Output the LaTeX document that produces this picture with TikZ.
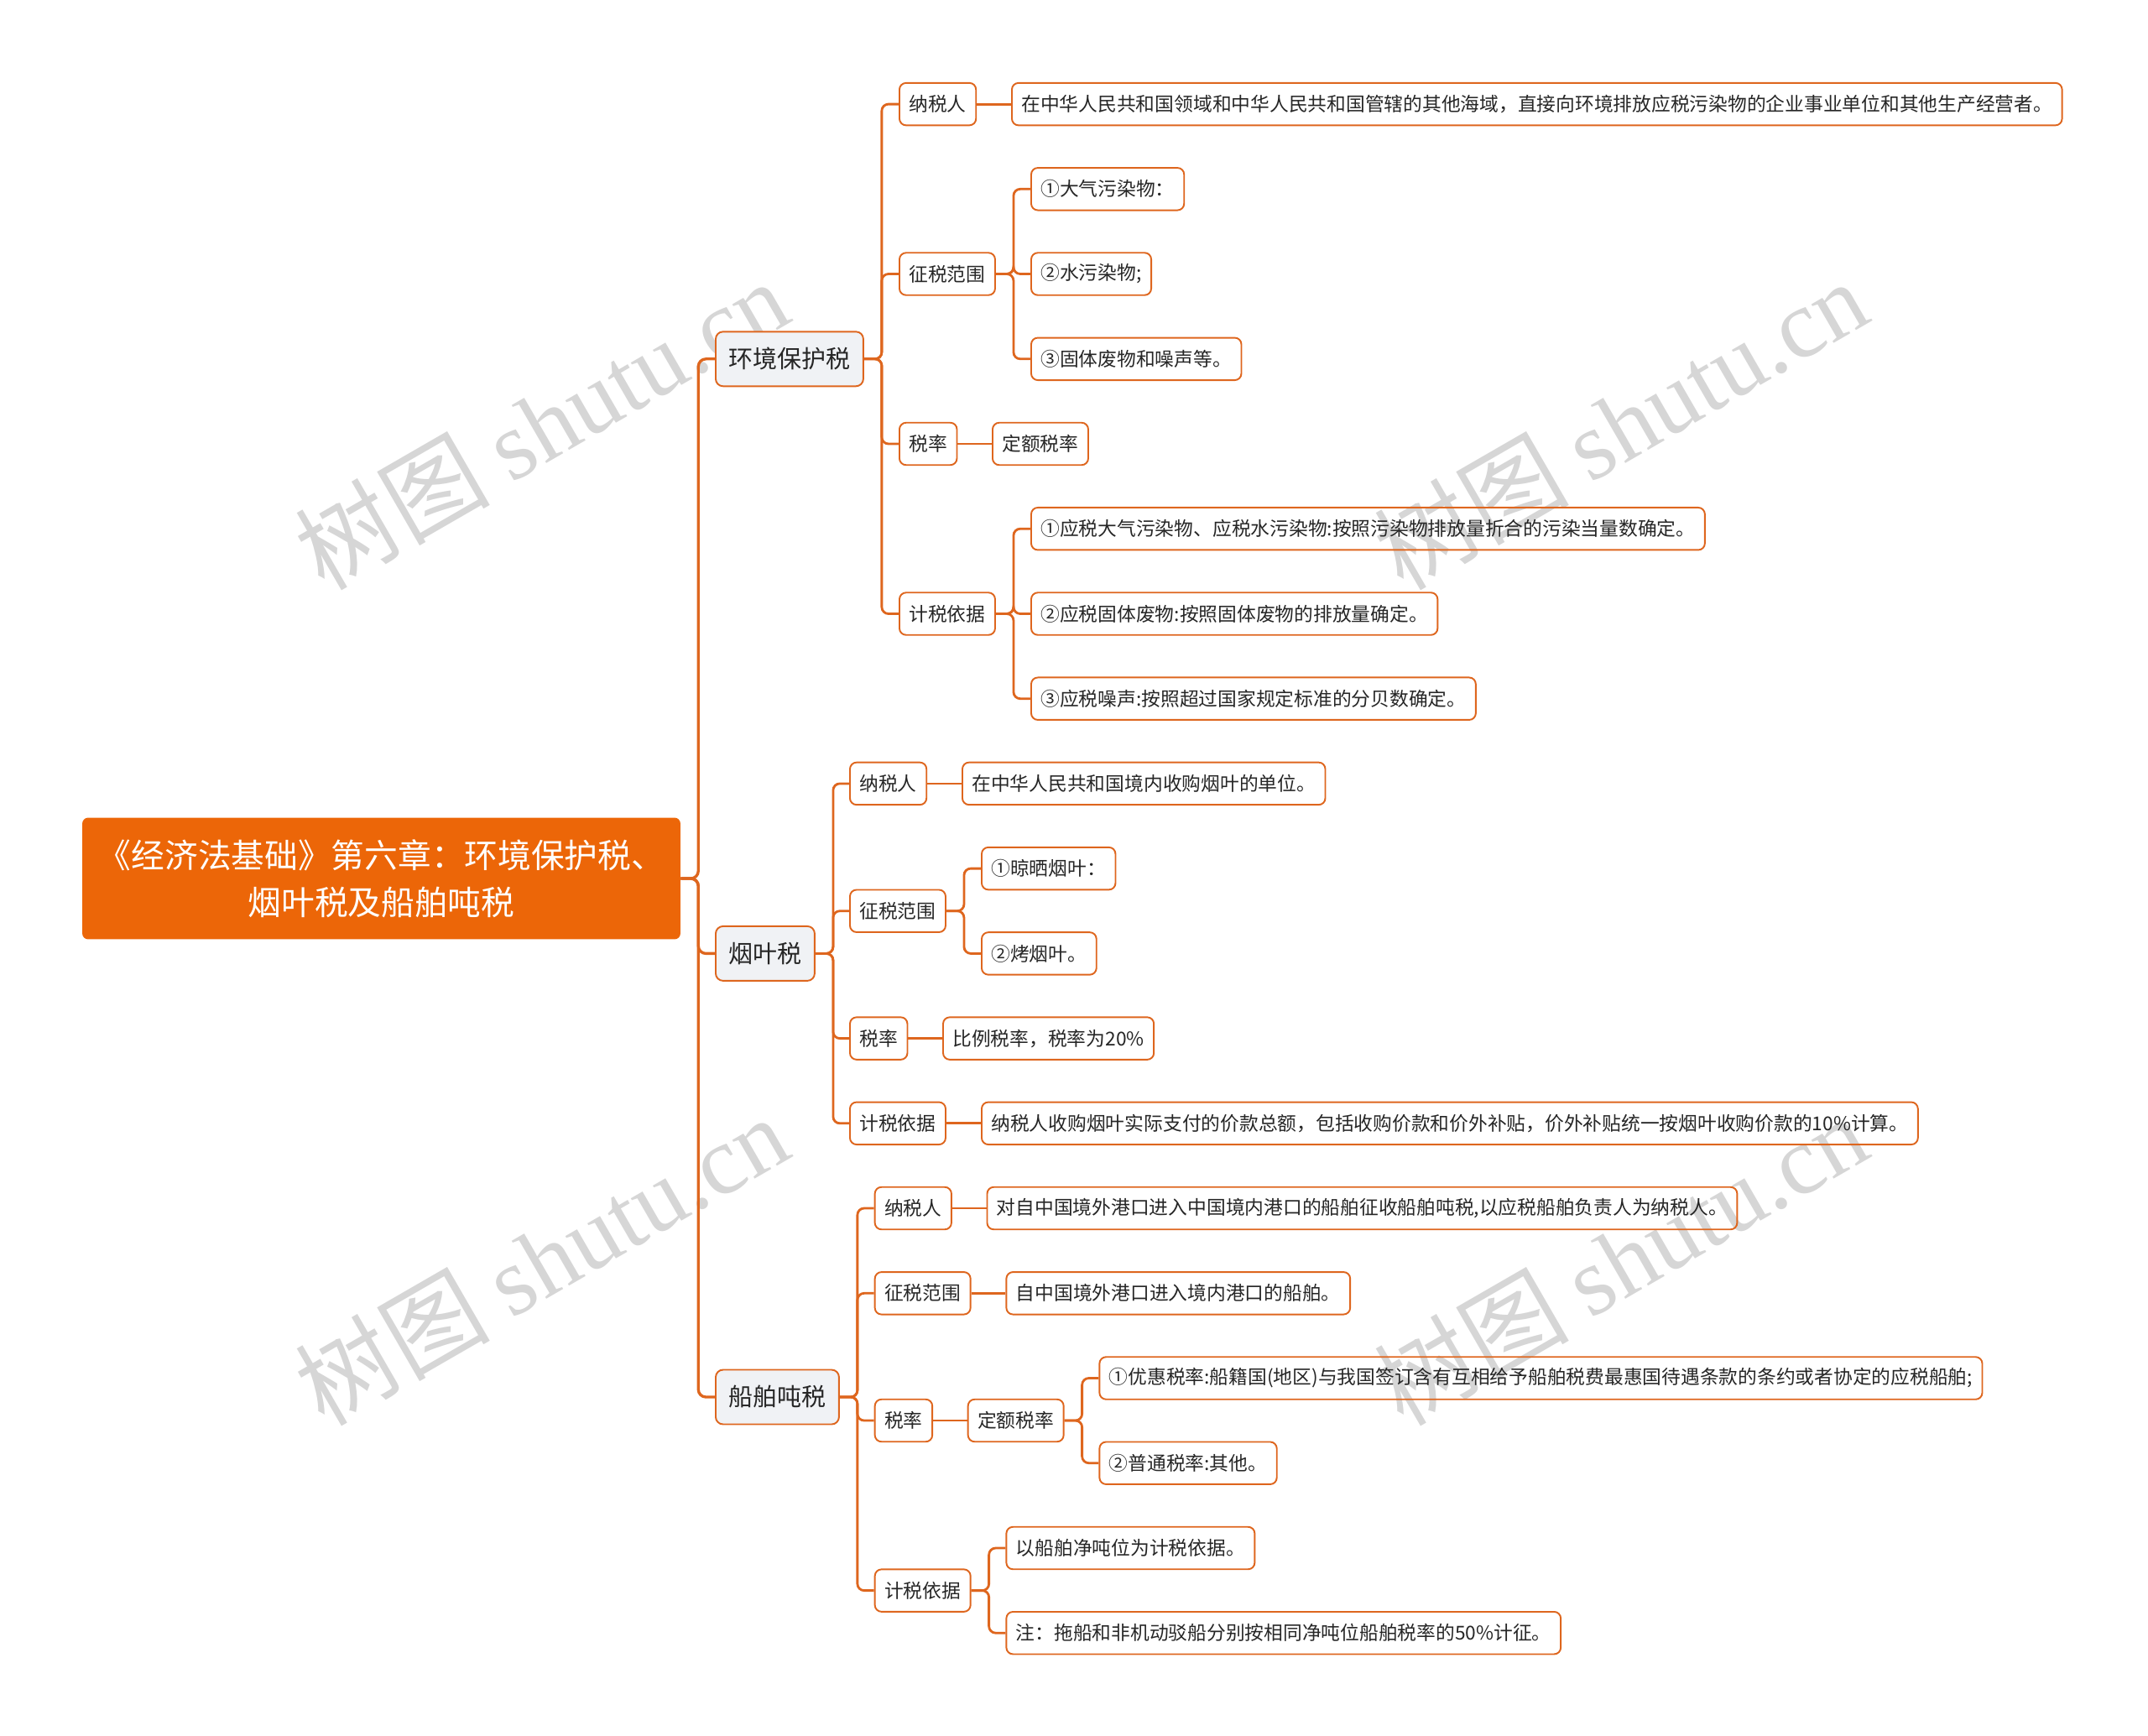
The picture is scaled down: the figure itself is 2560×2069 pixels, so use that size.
\documentclass[tikz,border=0pt]{standalone}
\usepackage{fontspec}
\setmainfont{Noto Sans CJK SC}
\newfontfamily\markfont{Liberation Serif}
\usepackage{tikz}
\usepackage{xcolor}
\definecolor{rootOrange}{HTML}{EC6608}
\definecolor{lineOrange}{HTML}{DE661E}
\definecolor{topicGray}{HTML}{F0F2F5}
\definecolor{markGray}{HTML}{D6D6D6}

\begin{document}
\begin{tikzpicture}[
    x=0.02cm, y=-0.02cm,
    rootBox/.style={fill=rootOrange, text=white, rounded corners=4pt, minimum width=14.26cm, minimum height=2.9cm, align=center, font=\fontsize{22.6}{32}\selectfont},
    topicBox/.style={anchor=west, draw=lineOrange, fill=topicGray, line width=1.1pt, rounded corners=5pt, inner xsep=0.31cm, minimum height=1.3cm, text=black!85, font=\fontsize{16.5}{20}\selectfont},
    itemBox/.style={anchor=west, draw=lineOrange, line width=1.1pt, rounded corners=4.5pt, inner xsep=0.23cm, minimum height=1.01cm, text=black!85, font=\fontsize{12.95}{16}\selectfont},
    trunkLine/.style={draw=lineOrange, line width=1.9pt, rounded corners=0.18cm},
    branchLine/.style={draw=lineOrange, line width=1.6pt, rounded corners=0.16cm},
    markText/.style={text=markGray, rotate=30, font=\fontsize{66}{70}\selectfont}
]
    \useasboundingbox (0,0) rectangle (2560,2069);

    % 水印
    \foreach \wx/\wy [count=\i] in {645/505, 1931/505, 645/1501, 1931/1501}
        \node[markText] (mark\i) at (\wx,\wy) {树图 {\markfont shutu.cn}};

    % 中心主题
    \node[rootBox] (root) at (454.5,1047) {《经济法基础》第六章：环境保护税、\\烟叶税及船舶吨税};

    % 一级分支
    \node[topicBox] (env) at (852,427.8) {环境保护税};
    \node[topicBox] (tob) at (852,1136.4) {烟叶税};
    \node[topicBox] (ship) at (852,1665) {船舶吨税};
    \foreach \t in {env,tob,ship}
        \draw[trunkLine] (root.east) -- ++(21,0) |- (\t.west);

    % 环境保护税
    \node[itemBox] (envPayer) at (1071,124.1) {纳税人};
    \node[itemBox] (envScope) at (1071,326.5) {征税范围};
    \node[itemBox] (envRate) at (1071,529) {税率};
    \node[itemBox] (envBase) at (1071,731.5) {计税依据};
    \foreach \t in {envPayer,envScope,envRate,envBase}
        \draw[branchLine] (env.east) -- ++(21,0) |- (\t.west);

    \node[itemBox] (envPayerTxt) at (1205,124.1) {在中华人民共和国领域和中华人民共和国管辖的其他海域，直接向环境排放应税污染物的企业事业单位和其他生产经营者。};
    \draw[branchLine] (envPayer) -- (envPayerTxt);

    \node[itemBox] (envScopeA) at (1228,225.3) {①大气污染物：};
    \node[itemBox] (envScopeB) at (1228,326.5) {②水污染物;};
    \node[itemBox] (envScopeC) at (1228,427.8) {③固体废物和噪声等。};
    \foreach \t in {envScopeA,envScopeB,envScopeC}
        \draw[branchLine] (envScope.east) -- ++(21,0) |- (\t.west);

    \node[itemBox] (envRateTxt) at (1182,529) {定额税率};
    \draw[branchLine] (envRate) -- (envRateTxt);

    \node[itemBox] (envBaseA) at (1228,630.2) {①应税大气污染物、应税水污染物:按照污染物排放量折合的污染当量数确定。};
    \node[itemBox] (envBaseB) at (1228,731.5) {②应税固体废物:按照固体废物的排放量确定。};
    \node[itemBox] (envBaseC) at (1228,832.7) {③应税噪声:按照超过国家规定标准的分贝数确定。};
    \foreach \t in {envBaseA,envBaseB,envBaseC}
        \draw[branchLine] (envBase.east) -- ++(21,0) |- (\t.west);

    % 烟叶税
    \node[itemBox] (tobPayer) at (1012,933.9) {纳税人};
    \node[itemBox] (tobScope) at (1012,1085.7) {征税范围};
    \node[itemBox] (tobRate) at (1012,1237.6) {税率};
    \node[itemBox] (tobBase) at (1012,1338.8) {计税依据};
    \foreach \t in {tobPayer,tobScope,tobRate,tobBase}
        \draw[branchLine] (tob.east) -- ++(21,0) |- (\t.west);

    \node[itemBox] (tobPayerTxt) at (1146,933.9) {在中华人民共和国境内收购烟叶的单位。};
    \draw[branchLine] (tobPayer) -- (tobPayerTxt);

    \node[itemBox] (tobScopeA) at (1169,1035.1) {①晾晒烟叶：};
    \node[itemBox] (tobScopeB) at (1169,1136.4) {②烤烟叶。};
    \foreach \t in {tobScopeA,tobScopeB}
        \draw[branchLine] (tobScope.east) -- ++(21,0) |- (\t.west);

    \node[itemBox] (tobRateTxt) at (1123,1237.6) {比例税率，税率为20\%};
    \draw[branchLine] (tobRate) -- (tobRateTxt);

    \node[itemBox] (tobBaseTxt) at (1169,1338.8) {纳税人收购烟叶实际支付的价款总额，包括收购价款和价外补贴，价外补贴统一按烟叶收购价款的10\%计算。};
    \draw[branchLine] (tobBase) -- (tobBaseTxt);

    % 船舶吨税
    \node[itemBox] (shipPayer) at (1041.7,1440) {纳税人};
    \node[itemBox] (shipScope) at (1041.7,1541.3) {征税范围};
    \node[itemBox] (shipRate) at (1041.7,1693) {税率};
    \node[itemBox] (shipBase) at (1041.7,1895.6) {计税依据};
    \foreach \t in {shipPayer,shipScope,shipRate,shipBase}
        \draw[branchLine] (ship.east) -- ++(21,0) |- (\t.west);

    \node[itemBox] (shipPayerTxt) at (1175.5,1440) {对自中国境外港口进入中国境内港口的船舶征收船舶吨税,以应税船舶负责人为纳税人。};
    \draw[branchLine] (shipPayer) -- (shipPayerTxt);

    \node[itemBox] (shipScopeTxt) at (1198.4,1541.3) {自中国境外港口进入境内港口的船舶。};
    \draw[branchLine] (shipScope) -- (shipScopeTxt);

    \node[itemBox] (shipRateTxt) at (1152.7,1693) {定额税率};
    \draw[branchLine] (shipRate) -- (shipRateTxt);

    \node[itemBox] (shipRateA) at (1309.4,1642.5) {①优惠税率:船籍国(地区)与我国签订含有互相给予船舶税费最惠国待遇条款的条约或者协定的应税船舶;};
    \node[itemBox] (shipRateB) at (1309.4,1743.7) {②普通税率:其他。};
    \foreach \t in {shipRateA,shipRateB}
        \draw[branchLine] (shipRateTxt.east) -- ++(21,0) |- (\t.west);

    \node[itemBox] (shipBaseA) at (1198.4,1845) {以船舶净吨位为计税依据。};
    \node[itemBox] (shipBaseB) at (1198.4,1946.2) {注：拖船和非机动驳船分别按相同净吨位船舶税率的50\%计征。};
    \foreach \t in {shipBaseA,shipBaseB}
        \draw[branchLine] (shipBase.east) -- ++(21,0) |- (\t.west);
\end{tikzpicture}
\end{document}
